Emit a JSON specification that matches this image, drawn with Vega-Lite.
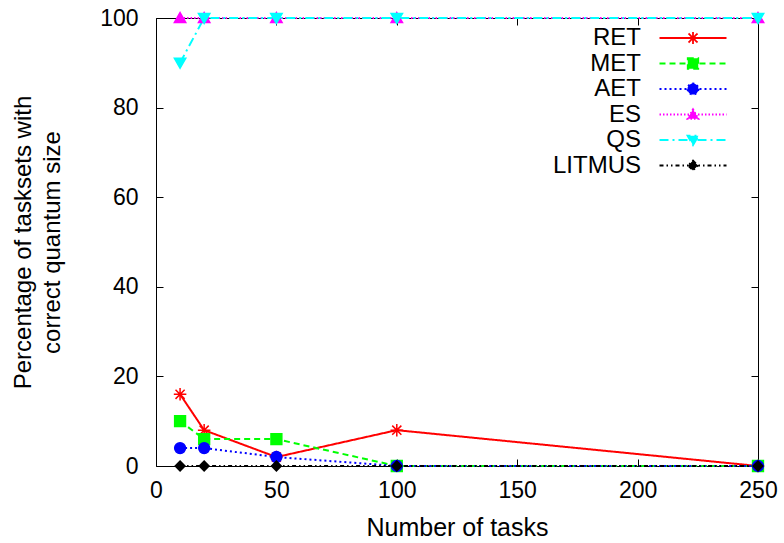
{
  "$schema": "https://vega.github.io/schema/vega-lite/v6.json",
  "width": 602,
  "height": 448,
  "autosize": "none",
  "padding": {"left": 156, "top": 18, "right": 26, "bottom": 77},
  "background": "white",
  "config": {
    "view": {"stroke": "black", "strokeWidth": 1},
    "font": "Liberation Sans",
    "axis": {
      "grid": false,
      "domain": false,
      "labelFont": "Liberation Sans",
      "titleFont": "Liberation Sans",
      "labelFontSize": 23,
      "titleFontSize": 24,
      "labelColor": "black",
      "titleColor": "black",
      "titleFontWeight": "normal",
      "tickColor": "black",
      "tickSize": -7,
      "tickWidth": 1
    }
  },
  "data": {
    "values": [
      {"series": "RET", "n": 10, "pct": 16},
      {"series": "RET", "n": 20, "pct": 8},
      {"series": "RET", "n": 50, "pct": 2},
      {"series": "RET", "n": 100, "pct": 8},
      {"series": "RET", "n": 250, "pct": 0},
      {"series": "MET", "n": 10, "pct": 10},
      {"series": "MET", "n": 20, "pct": 6},
      {"series": "MET", "n": 50, "pct": 6},
      {"series": "MET", "n": 100, "pct": 0},
      {"series": "MET", "n": 250, "pct": 0},
      {"series": "AET", "n": 10, "pct": 4},
      {"series": "AET", "n": 20, "pct": 4},
      {"series": "AET", "n": 50, "pct": 2},
      {"series": "AET", "n": 100, "pct": 0},
      {"series": "AET", "n": 250, "pct": 0},
      {"series": "ES", "n": 10, "pct": 100},
      {"series": "ES", "n": 20, "pct": 100},
      {"series": "ES", "n": 50, "pct": 100},
      {"series": "ES", "n": 100, "pct": 100},
      {"series": "ES", "n": 250, "pct": 100},
      {"series": "QS", "n": 10, "pct": 90},
      {"series": "QS", "n": 20, "pct": 100},
      {"series": "QS", "n": 50, "pct": 100},
      {"series": "QS", "n": 100, "pct": 100},
      {"series": "QS", "n": 250, "pct": 100},
      {"series": "LITMUS", "n": 10, "pct": 0},
      {"series": "LITMUS", "n": 20, "pct": 0},
      {"series": "LITMUS", "n": 50, "pct": 0},
      {"series": "LITMUS", "n": 100, "pct": 0},
      {"series": "LITMUS", "n": 250, "pct": 0}
    ]
  },
  "layer": [
    {
      "mark": {"type": "line", "strokeWidth": 2},
      "encoding": {
        "x": {
          "field": "n", "type": "quantitative",
          "scale": {"domain": [0, 250], "nice": false, "zero": false},
          "axis": {"values": [0, 50, 100, 150, 200, 250], "title": "Number of tasks", "titleFontSize": 25, "labelPadding": 20, "titlePadding": 13, "labelFlush": false}
        },
        "y": {
          "field": "pct", "type": "quantitative",
          "scale": {"domain": [0, 100], "nice": false},
          "axis": {"values": [0, 20, 40, 60, 80, 100], "title": ["Percentage of tasksets with", "correct quantum size"], "titleLineHeight": 29, "labelPadding": 25, "titlePadding": 35, "labelFlush": false}
        },
        "color": {
          "field": "series", "type": "nominal",
          "scale": {"domain": ["RET", "MET", "AET", "ES", "QS", "LITMUS"], "range": ["#ff0000", "#00ff00", "#0000ff", "#ff00ff", "#00ffff", "#000000"]},
          "legend": {
            "orient": "none", "legendX": 525, "legendY": 8, "title": null, "padding": 0,
            "labelFont": "Liberation Sans", "labelFontSize": 24, "labelColor": "black",
            "labelAlign": "right", "labelOffset": -64, "labelLimit": 0,
            "symbolSize": 100, "symbolStrokeWidth": 1.8, "rowPadding": 1.5,
            "encode": {
              "symbols": {
                "update": {
                  "shape": {"signal": "datum.value === 'RET' ? 'M-6.7,0L6.7,0M0,-1.2L0,1.2M-0.9,-0.9L0.9,0.9M-0.9,0.9L0.9,-0.9' : datum.value === 'MET' ? 'M-6.7,0L6.7,0M-1.05,-1.05L1.05,-1.05L1.05,1.05L-1.05,1.05Z' : datum.value === 'AET' ? 'M-6.7,0L6.7,0M1.1,0A1.1,1.1,0,1,1,-1.1,0A1.1,1.1,0,1,1,1.1,0Z' : datum.value === 'ES' ? 'M-6.7,0L6.7,0M0,-1.05L1.1,0.85L-1.1,0.85Z' : datum.value === 'QS' ? 'M-6.7,0L6.7,0M0,1.05L1.1,-0.85L-1.1,-0.85Z' : 'M-6.7,0L6.7,0M0,-1L1,0L0,1L-1,0Z'"},
                  "fill": {"signal": "datum.value === 'RET' ? '#ff0000' : datum.value === 'MET' ? '#00ff00' : datum.value === 'AET' ? '#0000ff' : datum.value === 'ES' ? '#ff00ff' : datum.value === 'QS' ? '#00ffff' : '#000000'"},
                  "stroke": {"signal": "datum.value === 'RET' ? '#ff0000' : datum.value === 'MET' ? '#00ff00' : datum.value === 'AET' ? '#0000ff' : datum.value === 'ES' ? '#ff00ff' : datum.value === 'QS' ? '#00ffff' : '#000000'"},
                  "strokeDash": {"signal": "datum.value === 'RET' ? [1,0] : datum.value === 'MET' ? [6,4] : datum.value === 'AET' ? [2,3] : datum.value === 'ES' ? [1.5,2] : datum.value === 'QS' ? [9,4,2,4] : [4,3,1.5,3,1.5,3]"},
                  "opacity": {"value": 1}
                }
              }
            }
          }
        },
        "strokeDash": {
          "field": "series", "type": "nominal",
          "scale": {"domain": ["RET", "MET", "AET", "ES", "QS", "LITMUS"], "range": [[1, 0], [6, 4], [2, 3], [1.5, 2], [9, 4, 2, 4], [4, 3, 1.5, 3, 1.5, 3]]},
          "legend": null
        }
      }
    },
    {
      "mark": {"type": "point", "opacity": 0},
      "encoding": {
        "x": {
          "field": "n", "type": "quantitative",
          "scale": {"domain": [0, 250], "nice": false, "zero": false},
          "axis": {"orient": "top", "values": [0, 50, 100, 150, 200, 250], "labels": false, "title": null, "tickSize": -7}
        },
        "y": {
          "field": "pct", "type": "quantitative",
          "scale": {"domain": [0, 100], "nice": false},
          "axis": {"orient": "right", "values": [0, 20, 40, 60, 80, 100], "labels": false, "title": null, "tickSize": -7}
        }
      }
    },
    {
      "mark": {"type": "point", "filled": true, "strokeWidth": 1.5, "size": 130, "opacity": 1},
      "encoding": {
        "x": {"field": "n", "type": "quantitative", "scale": {"domain": [0, 250], "nice": false, "zero": false}, "axis": null},
        "y": {"field": "pct", "type": "quantitative", "scale": {"domain": [0, 100], "nice": false}, "axis": null},
        "color": {
          "field": "series", "type": "nominal",
          "scale": {"domain": ["RET", "MET", "AET", "ES", "QS", "LITMUS"], "range": ["#ff0000", "#00ff00", "#0000ff", "#ff00ff", "#00ffff", "#000000"]},
          "legend": null
        },
        "stroke": {
          "field": "series", "type": "nominal",
          "scale": {"domain": ["RET", "MET", "AET", "ES", "QS", "LITMUS"], "range": ["#ff0000", "#00ff00", "#0000ff", "#ff00ff", "#00ffff", "#000000"]},
          "legend": null
        },
        "shape": {
          "field": "series", "type": "nominal",
          "scale": {"domain": ["RET", "MET", "AET", "ES", "QS", "LITMUS"], "range": ["M0,-1.1L0,1.1M-1.1,0L1.1,0M-0.8,-0.8L0.8,0.8M-0.8,0.8L0.8,-0.8", "M-0.95,-0.95L0.95,-0.95L0.95,0.95L-0.95,0.95Z", "M0.95,0A0.95,0.95,0,1,1,-0.95,0A0.95,0.95,0,1,1,0.95,0Z", "M0,-0.95L1,0.8L-1,0.8Z", "M0,0.95L1,-0.8L-1,-0.8Z", "M0,-0.85L0.85,0L0,0.85L-0.85,0Z"]},
          "legend": null
        }
      }
    }
  ],
  "resolve": {
    "axis": {"x": "independent", "y": "independent"},
    "legend": {"color": "independent", "strokeDash": "independent", "shape": "independent", "stroke": "independent"}
  }
}
